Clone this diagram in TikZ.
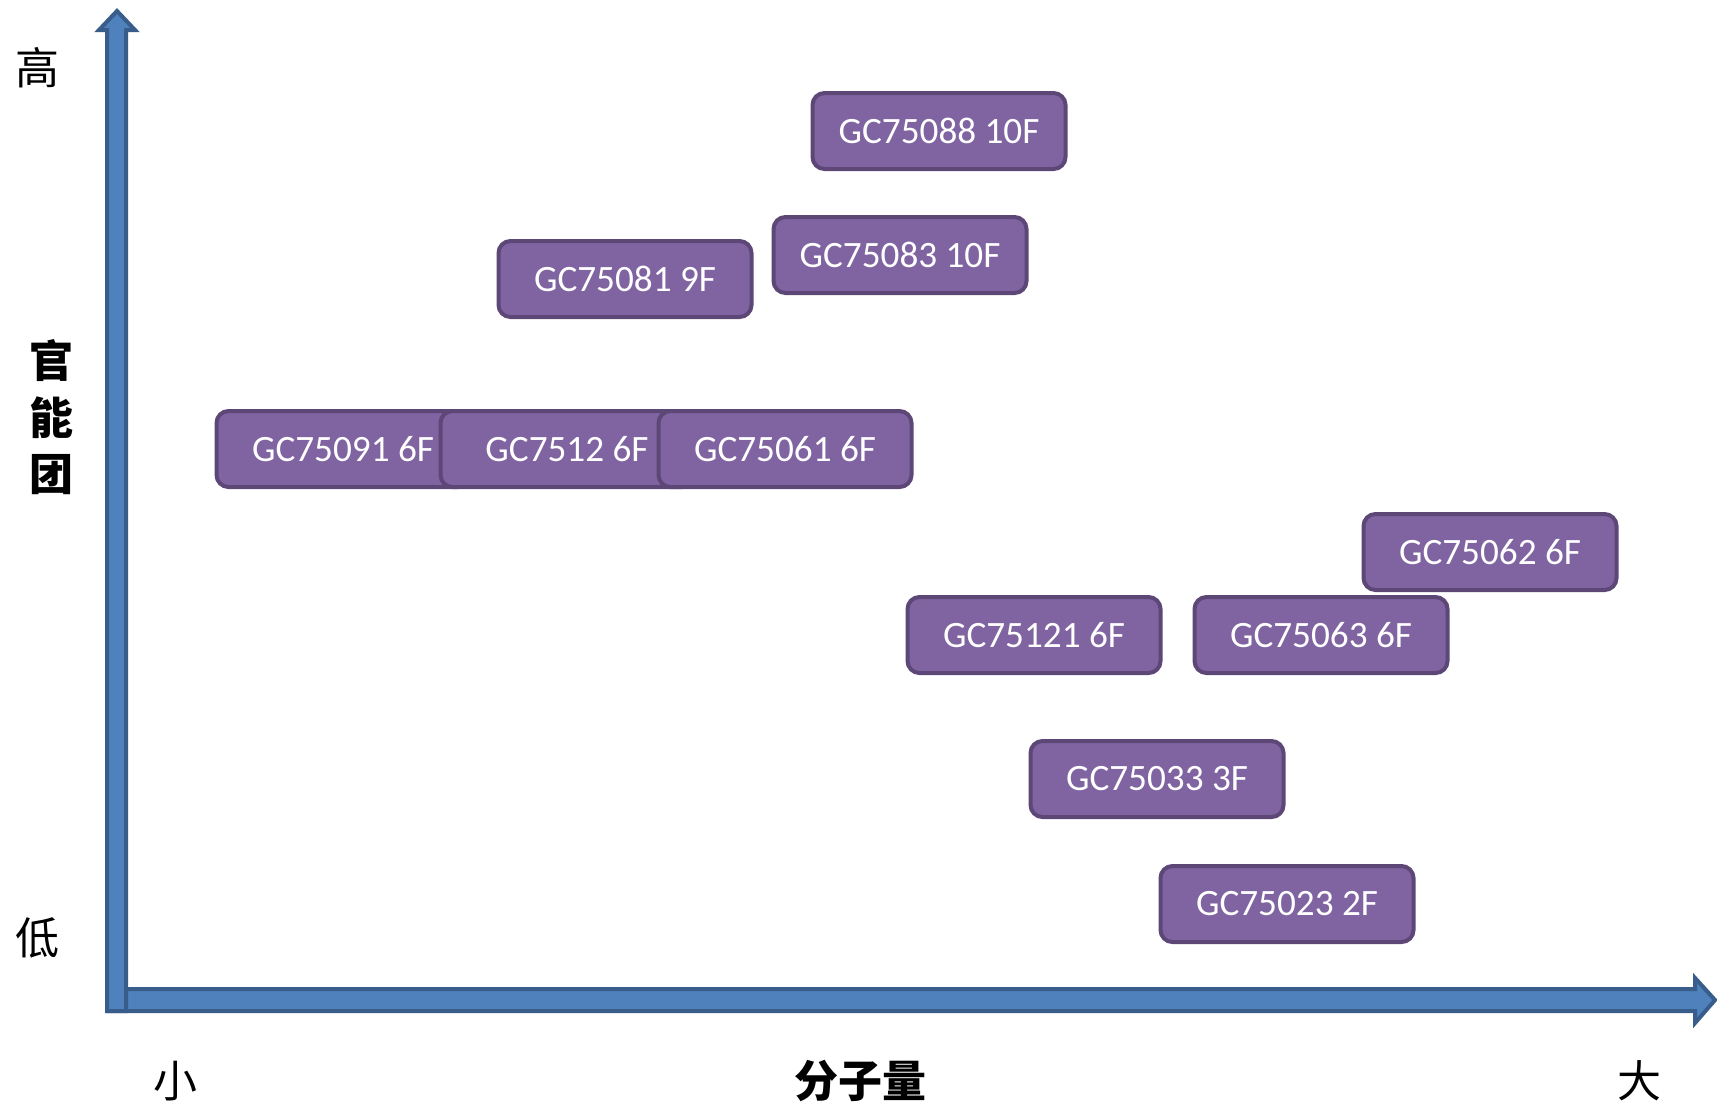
\documentclass[tikz,border=0pt]{standalone}
\usepackage{fontspec}
\setmainfont{Carlito}
\newfontfamily\cjk{Noto Sans CJK SC}
\definecolor{boxfill}{HTML}{8064A2}
\definecolor{boxline}{HTML}{5C4776}
\definecolor{axfill}{HTML}{4F81BD}
\definecolor{axline}{HTML}{385D8A}
\tikzset{
  gcbox/.style={draw=boxline, fill=boxfill, line width=2pt, rounded corners=6pt,
    minimum width=126.5pt, minimum height=38pt, inner sep=0pt,
    text=white, font=\fontsize{18.6}{20}\selectfont},
  axis/.style={draw=axline, fill=axfill, line width=2pt, line join=miter},
  lbl/.style={font=\cjk\fontsize{22}{24}\selectfont, inner sep=0pt},
  blbl/.style={font=\cjk\bfseries\fontsize{22}{24}\selectfont, inner sep=0pt}
}
\begin{document}
\begin{tikzpicture}[x=0.5pt,y=-0.5pt]
\useasboundingbox (0,0) rectangle (1717,1105);
% horizontal axis
\path[axis] (108,989) -- (1695,989) -- (1695,978) -- (1715,1000) -- (1695,1023) -- (1695,1011) -- (108,1011) -- cycle;
% vertical axis
\path[axis] (107,1011) -- (107,30) -- (99,30) -- (117,11) -- (135,30) -- (126,30) -- (126,1011) -- cycle;
% boxes
\node[gcbox] (b88) at (939,131) {GC75088 10F};
\node[gcbox] (b83) at (900,255) {GC75083 10F};
\node[gcbox] (b81) at (625,279) {GC75081 9F};
\node[gcbox] (b91) at (343,449) {GC75091 6F};
\node[gcbox] (b12) at (567,449) {GC7512 6F};
\node[gcbox] (b61) at (785,449) {GC75061 6F};
\node[gcbox] (b62) at (1490,552) {GC75062 6F};
\node[gcbox] (b121) at (1034,635) {GC75121 6F};
\node[gcbox] (b63) at (1321,635) {GC75063 6F};
\node[gcbox] (b33) at (1157,779) {GC75033 3F};
\node[gcbox] (b23) at (1287,904) {GC75023 2F};
% labels
\node[lbl] (hi) at (37,68) {高};
\node[lbl] (lo) at (37,938) {低};
\node[blbl] (g1) at (51,361) {官};
\node[blbl] (g2) at (51,418) {能};
\node[blbl] (g3) at (51,475) {团};
\node[lbl] (sm) at (175,1081) {小};
\node[blbl] (mw) at (860,1081) {分子量};
\node[lbl] (bg) at (1639,1081) {大};
\end{tikzpicture}
\end{document}
